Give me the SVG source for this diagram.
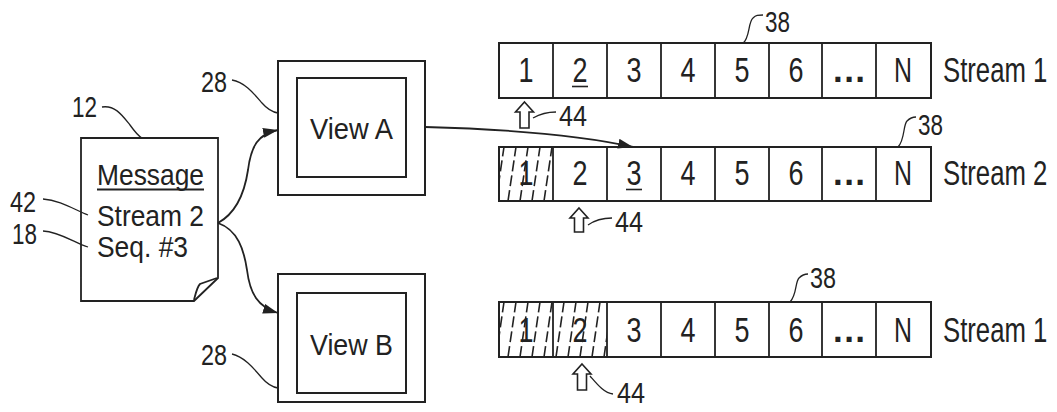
<svg xmlns="http://www.w3.org/2000/svg" width="1057" height="412" viewBox="0 0 1057 412">
<style>
  .ln{fill:none;stroke:#222;stroke-width:1.8}
  .box{fill:#fff;stroke:#222;stroke-width:2}
  .ld{fill:none;stroke:#222;stroke-width:1.3}
  .t{font-family:"Liberation Sans",Arial,sans-serif;fill:#222}
  .big{font-size:35px}
  .mid{font-size:29px}
  .hat{stroke:#222;stroke-width:1.6;stroke-dasharray:11 4}
  .ha{fill:#fff;stroke:#222;stroke-width:1.6}
</style>
<defs>
  <marker id="ah" markerWidth="16" markerHeight="10" refX="15" refY="5" orient="auto" markerUnits="userSpaceOnUse">
    <path d="M0,0 L15,5 L0,10 Z" fill="#222"/>
  </marker>
  <clipPath id="c1"><rect x="499" y="147" width="54" height="54"/></clipPath>
  <clipPath id="c2"><rect x="499" y="302" width="108" height="55"/></clipPath>
</defs>
<rect width="1057" height="412" fill="#fff"/>

<g id="message">
  <path class="ln" d="M81,138 H218 V278 L194,301 H81 Z"/>
  <path class="ln" d="M194,300 C196,292 197,287 200,284 L217,278"/>
  <text class="t mid" x="97" y="185" textLength="107" lengthAdjust="spacingAndGlyphs">Message</text>
  <line x1="97" y1="189.5" x2="204" y2="189.5" stroke="#222" stroke-width="1.8"/>
  <text class="t mid" x="97" y="226" textLength="107" lengthAdjust="spacingAndGlyphs">Stream 2</text>
  <text class="t mid" x="97" y="257" textLength="91" lengthAdjust="spacingAndGlyphs">Seq. #3</text>
</g>

<g id="viewA">
  <rect class="box" x="278" y="61" width="147" height="134"/>
  <rect class="box" x="297" y="78" width="109" height="99"/>
  <text class="t mid" x="310" y="139" textLength="83" lengthAdjust="spacingAndGlyphs">View A</text>
</g>

<g id="viewB">
  <rect class="box" x="278" y="274" width="147" height="128"/>
  <rect class="box" x="297" y="293" width="109" height="100"/>
  <text class="t mid" x="310" y="355" textLength="83" lengthAdjust="spacingAndGlyphs">View B</text>
</g>

<g id="stream1-top">
  <rect class="box" x="499" y="43" width="432" height="55"/>
  <path class="ln" d="M553,43V98M607,43V98M661,43V98M715,43V98M769,43V98M822,43V98M876,43V98"/>
  <g class="t big" text-anchor="middle">
    <text x="526" y="82" textLength="15" lengthAdjust="spacingAndGlyphs">1</text>
    <text x="580" y="82" textLength="15" lengthAdjust="spacingAndGlyphs">2</text>
    <text x="634" y="82" textLength="15" lengthAdjust="spacingAndGlyphs">3</text>
    <text x="688" y="82" textLength="15" lengthAdjust="spacingAndGlyphs">4</text>
    <text x="742" y="82" textLength="15" lengthAdjust="spacingAndGlyphs">5</text>
    <text x="796" y="82" textLength="15" lengthAdjust="spacingAndGlyphs">6</text>
    <text x="903" y="82" textLength="18" lengthAdjust="spacingAndGlyphs">N</text>
  </g>
  <text class="t big" x="833" y="82" font-weight="bold" textLength="32" lengthAdjust="spacing">...</text>
  <line x1="572" y1="86.5" x2="588" y2="86.5" stroke="#222" stroke-width="1.6"/>
  <text class="t big" transform="translate(943,82) scale(0.735,1)" x="0" y="0">Stream 1</text>
</g>

<g id="stream2">
  <rect class="box" x="499" y="147" width="432" height="54"/>
  <g clip-path="url(#c1)">
    <path class="hat" d="M496,201L504,147M508,201L516,147M520,201L528,147M532,201L540,147M544,201L552,147M556,201L564,147"/>
  </g>
  <path class="ln" d="M553,147V201M607,147V201M661,147V201M715,147V201M769,147V201M822,147V201M876,147V201"/>
  <g class="t big" text-anchor="middle">
    <text x="526" y="185" textLength="15" lengthAdjust="spacingAndGlyphs">1</text>
    <text x="580" y="185" textLength="15" lengthAdjust="spacingAndGlyphs">2</text>
    <text x="634" y="185" textLength="15" lengthAdjust="spacingAndGlyphs">3</text>
    <text x="688" y="185" textLength="15" lengthAdjust="spacingAndGlyphs">4</text>
    <text x="742" y="185" textLength="15" lengthAdjust="spacingAndGlyphs">5</text>
    <text x="796" y="185" textLength="15" lengthAdjust="spacingAndGlyphs">6</text>
    <text x="903" y="185" textLength="18" lengthAdjust="spacingAndGlyphs">N</text>
  </g>
  <text class="t big" x="833" y="185" font-weight="bold" textLength="32" lengthAdjust="spacing">...</text>
  <line x1="626" y1="189.5" x2="642" y2="189.5" stroke="#222" stroke-width="1.6"/>
  <text class="t big" transform="translate(943,185) scale(0.735,1)" x="0" y="0">Stream 2</text>
</g>

<g id="stream1-bottom">
  <rect class="box" x="499" y="302" width="432" height="55"/>
  <g clip-path="url(#c2)">
    <path class="hat" d="M496,357L504,302M508,357L516,302M520,357L528,302M532,357L540,302M544,357L552,302M556,357L564,302M568,357L576,302M580,357L588,302M592,357L600,302M604,357L612,302"/>
  </g>
  <path class="ln" d="M553,302V357M607,302V357M661,302V357M715,302V357M769,302V357M822,302V357M876,302V357"/>
  <g class="t big" text-anchor="middle">
    <text x="526" y="342" textLength="15" lengthAdjust="spacingAndGlyphs">1</text>
    <text x="580" y="342" textLength="15" lengthAdjust="spacingAndGlyphs">2</text>
    <text x="634" y="342" textLength="15" lengthAdjust="spacingAndGlyphs">3</text>
    <text x="688" y="342" textLength="15" lengthAdjust="spacingAndGlyphs">4</text>
    <text x="742" y="342" textLength="15" lengthAdjust="spacingAndGlyphs">5</text>
    <text x="796" y="342" textLength="15" lengthAdjust="spacingAndGlyphs">6</text>
    <text x="903" y="342" textLength="18" lengthAdjust="spacingAndGlyphs">N</text>
  </g>
  <text class="t big" x="833" y="342" font-weight="bold" textLength="32" lengthAdjust="spacing">...</text>
  <text class="t big" transform="translate(943,342) scale(0.735,1)" x="0" y="0">Stream 1</text>
</g>

<g id="pointers">
  <path class="ha" d="M524.5,102 L533.5,112 L529,112 L529,128 L520,128 L520,112 L515.5,112 Z"/>
  <path class="ha" d="M579,208 L588,218 L583.5,218 L583.5,232 L574.5,232 L574.5,218 L570,218 Z"/>
  <path class="ha" d="M582,364 L591,374 L586.5,374 L586.5,390 L577.5,390 L577.5,374 L573,374 Z"/>
</g>

<g id="connectors">
  <path class="ln" marker-end="url(#ah)" d="M218,223 C238,212 245,190 248,170 C251,146 258,134 278,130"/>
  <path class="ln" marker-end="url(#ah)" d="M218,223 C238,230 244,250 247,270 C250,294 258,307 278,313"/>
  <path class="ln" marker-end="url(#ah)" d="M425,127 C500,129 580,135 633,147"/>
</g>

<g id="labels">
  <path class="ld" d="M102,107 C115,105 122,115 130,125 C135,132 138,136 142,138"/>
  <text class="t mid" x="72" y="117" textLength="25" lengthAdjust="spacingAndGlyphs">12</text>
  <path class="ld" d="M43,199 C60,200 75,210 88,215"/>
  <text class="t mid" x="10" y="212" textLength="26" lengthAdjust="spacingAndGlyphs">42</text>
  <path class="ld" d="M43,231 C60,232 75,243 88,247"/>
  <text class="t mid" x="12" y="244" textLength="25" lengthAdjust="spacingAndGlyphs">18</text>
  <path class="ld" d="M232,80 C245,82 255,95 262,103 C268,110 272,112 278,113"/>
  <text class="t mid" x="201" y="92" textLength="26" lengthAdjust="spacingAndGlyphs">28</text>
  <path class="ld" d="M232,354 C245,357 255,370 262,378 C268,385 272,387 278,388"/>
  <text class="t mid" x="201" y="365" textLength="26" lengthAdjust="spacingAndGlyphs">28</text>
  <path class="ld" d="M743,43 C750,38 748,22 753,18 C756,15 758,15 763,15"/>
  <text class="t mid" x="765" y="32" textLength="25" lengthAdjust="spacingAndGlyphs">38</text>
  <path class="ld" d="M898,147 C905,140 903,125 907,121 C910,118 913,117 916,117"/>
  <text class="t mid" x="918" y="135" textLength="25" lengthAdjust="spacingAndGlyphs">38</text>
  <path class="ld" d="M790,302 C797,295 795,282 799,278 C802,275 805,274 808,274"/>
  <text class="t mid" x="810" y="288" textLength="26" lengthAdjust="spacingAndGlyphs">38</text>
  <path class="ld" d="M533,118 C540,114 548,112 556,112"/>
  <text class="t mid" x="559" y="126" textLength="28" lengthAdjust="spacingAndGlyphs">44</text>
  <path class="ld" d="M588,225 C595,220 603,218 612,218"/>
  <text class="t mid" x="615" y="232" textLength="28" lengthAdjust="spacingAndGlyphs">44</text>
  <path class="ld" d="M590,376 C597,384 604,393 613,394"/>
  <text class="t mid" x="617" y="403" textLength="28" lengthAdjust="spacingAndGlyphs">44</text>
</g>
</svg>
